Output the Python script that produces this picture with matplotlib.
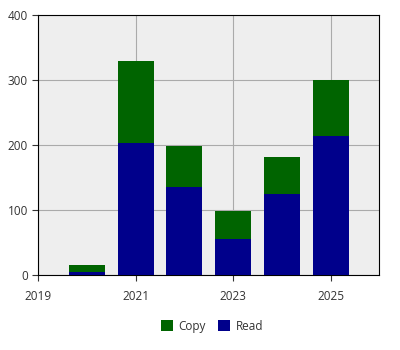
import numpy as np
import matplotlib
matplotlib.use('Agg')
import matplotlib.pyplot as plt

years = [2020, 2021, 2022, 2023, 2024, 2025]
read = [4, 203, 135, 56, 124, 214]
copy = [11, 126, 64, 43, 58, 86]

plt.rcParams['font.family'] = ['Open Sans', 'DejaVu Sans']

fig = plt.figure(figsize=(4, 3.5), dpi=100)
ax = fig.add_axes([0.096, 0.214, 0.852, 0.743])
ax.set_facecolor('#eeeeee')

ax.bar(years, read, width=0.74, color='#00008b', label='Read', zorder=3)
ax.bar(years, copy, width=0.74, bottom=read, color='#006400', label='Copy', zorder=3)

ax.set_xlim(2019, 2026)
ax.set_ylim(0, 400)
ax.set_xticks([2019, 2021, 2023, 2025])
ax.set_yticks([0, 100, 200, 300, 400])
ax.grid(True, color='#aaaaaa', linewidth=0.8, zorder=0)
ax.tick_params(labelsize=8.5, colors='#333333', length=4, width=0.8)
ax.tick_params(axis='x', pad=7)
for s in ax.spines.values():
    s.set_color('black')
    s.set_linewidth(0.8)

h, l = ax.get_legend_handles_labels()
fig.legend(h[::-1], l[::-1], loc='center', bbox_to_anchor=(0.53, 0.068), ncol=2,
           frameon=False, fontsize=8.5, handlelength=1.0, handleheight=1.0,
           columnspacing=1.0, handletextpad=0.5, labelcolor='#333333')

fig.savefig('out.png')
